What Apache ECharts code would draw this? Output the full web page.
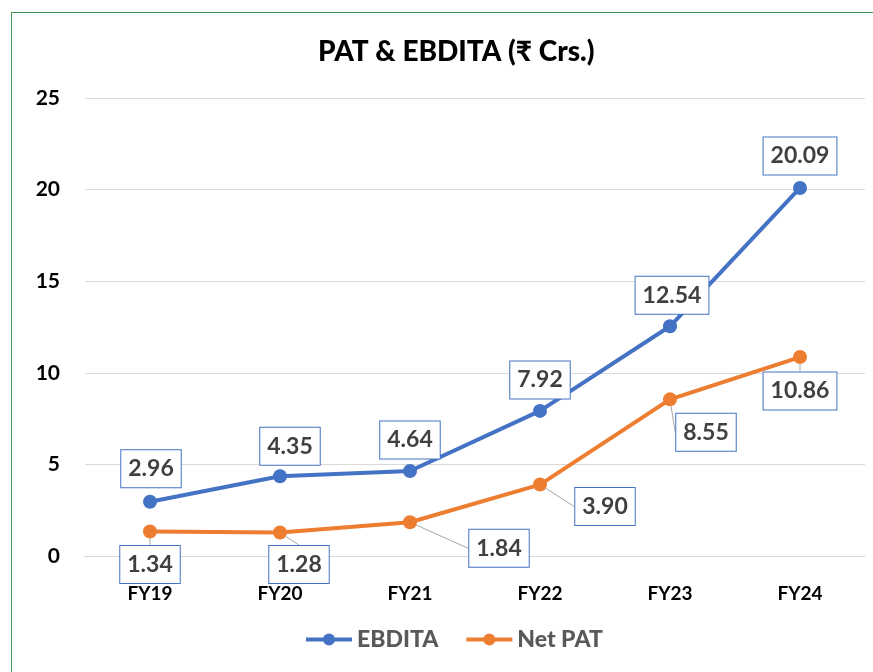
<!DOCTYPE html>
<html>
<head>
<meta charset="utf-8">
<script src="https://cdn.jsdelivr.net/npm/echarts@6/dist/echarts.min.js"></script>
<style>
  html, body { margin: 0; padding: 0; background: #fff; }
  #frame { position: absolute; left: 11px; top: 12px; width: 900px; height: 700px; border: 1.5px solid #3c9a50; }
  #mychart { position: absolute; left: 0; top: 0; width: 873px; height: 672px; }
</style>
</head>
<body>
<div id="frame"></div>
<div id="mychart"></div>
<script>
  // data
  const years = ['FY19', 'FY20', 'FY21', 'FY22', 'FY23', 'FY24']
  const ebdita = [2.96, 4.35, 4.64, 7.92, 12.54, 20.09]
  const netPat = [1.34, 1.28, 1.84, 3.90, 8.55, 10.86]
  const yTicks = [0, 5, 10, 15, 20, 25]

  const font = 'Lato, "Noto Sans", "DejaVu Sans", sans-serif'

  // label offsets (dx, dy) per point
  const ebditaShift = [[1, -33], [10, -30], [0, -31], [0, -31], [2, -31], [0, -32]]
  const patShift = [[0, 33], [19, 32], [89, 26], [65, 22], [36, 33], [0, 34]]

  const boxLabel = {
    show: true,
    position: 'inside',
    formatter: p => p.value.toFixed(2),
    fontFamily: font,
    fontSize: 23,
    fontWeight: 'bold',
    color: '#404040',
    backgroundColor: '#fff',
    borderColor: '#4472C4',
    borderWidth: 1,
    padding: [8, 7, 6, 7]
  }

  const myChart = echarts.init(document.getElementById('mychart'))
  const option = {
    animation: false,
    title: {
      text: 'PAT & EBDITA (₹ Crs.)',
      left: 313,
      top: 33,
      textStyle: { fontFamily: 'Lato', fontSize: 28, fontWeight: 900, color: '#000' }
    },
    legend: {
      bottom: 16,
      left: 299,
      itemWidth: 46,
      itemHeight: 15,
      itemGap: 26,
      lineStyle: { width: 4 },
      textStyle: { fontFamily: 'Lato', fontSize: 23, fontWeight: 900, color: '#595959' },
      data: ['EBDITA', 'Net PAT']
    },
    grid: { left: 85, right: 8, top: 98, bottom: 116 },
    xAxis: {
      type: 'category',
      data: years,
      axisLine: { lineStyle: { color: '#d9d9d9' } },
      axisTick: { show: false },
      axisLabel: { margin: 28, fontFamily: font, fontSize: 19, fontWeight: 'bold', color: '#000' }
    },
    yAxis: {
      type: 'value',
      min: yTicks[0],
      max: yTicks[yTicks.length - 1],
      interval: 5,
      axisLine: { show: false },
      axisTick: { show: false },
      splitLine: { lineStyle: { color: '#d9d9d9', width: 1 } },
      axisLabel: { margin: 25, fontFamily: font, fontSize: 21, fontWeight: 'bold', color: '#000' }
    },
    series: [
      {
        name: 'EBDITA',
        type: 'line',
        data: ebdita,
        symbol: 'circle',
        symbolSize: 14,
        lineStyle: { width: 4, color: '#4472C4' },
        itemStyle: { color: '#4472C4' },
        label: boxLabel,
        labelLayout: p => ({ dx: ebditaShift[p.dataIndex][0], dy: ebditaShift[p.dataIndex][1] }),
        z: 3
      },
      {
        name: 'Net PAT',
        type: 'line',
        data: netPat,
        symbol: 'circle',
        symbolSize: 14,
        lineStyle: { width: 4, color: '#ED7D31' },
        itemStyle: { color: '#ED7D31' },
        label: boxLabel,
        labelLine: { show: true, lineStyle: { color: '#a6a6a6', width: 1 } },
        labelLayout: p => ({ dx: patShift[p.dataIndex][0], dy: patShift[p.dataIndex][1] }),
        z: 2
      }
    ]
  }
  myChart.setOption(option)
</script>
</body>
</html>
